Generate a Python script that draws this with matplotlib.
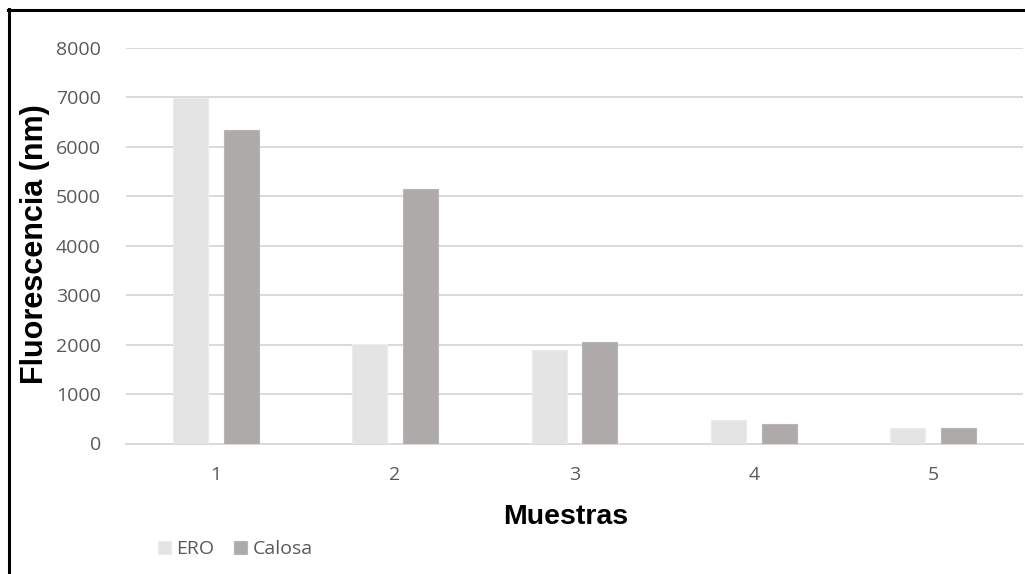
import matplotlib
matplotlib.use("Agg")
import matplotlib.pyplot as plt
from matplotlib.lines import Line2D
import numpy as np

# Data
muestras = ["1", "2", "3", "4", "5"]
ero = [6990, 2005, 1895, 480, 320]
calosa = [6345, 5140, 2055, 400, 318]
yticks = [0, 1000, 2000, 3000, 4000, 5000, 6000, 7000, 8000]

W, H = 1025, 574
fig = plt.figure(figsize=(W / 100, H / 100), dpi=100)
ax = fig.add_axes([126 / W, 1 - 443.5 / H, (1023 - 126) / W, (443.5 - 47.7) / H])

x = np.arange(len(muestras))
bw = 0.195
ax.bar(x - 0.142, ero, bw, color="#e4e4e4", edgecolor="#ececec", linewidth=0.8,
       label="ERO", zorder=3)
ax.bar(x + 0.142, calosa, bw, color="#aeaaaa", edgecolor="#b8b5b5", linewidth=0.8,
       label="Calosa", zorder=3)

ax.set_xlim(-0.5, len(muestras) - 0.5)
ax.set_ylim(0, 8000)
ax.set_yticks(yticks)
ax.set_yticklabels([str(v) for v in yticks])
ax.set_xticks(x)
ax.set_xticklabels(muestras)

ax.grid(axis="y", color="#d9d9d9", linewidth=1.4, zorder=0)
ax.set_axisbelow(True)
for s in ["top", "right", "left"]:
    ax.spines[s].set_visible(False)
ax.spines["bottom"].set_color("#d9d9d9")
ax.spines["bottom"].set_linewidth(1.4)
ax.tick_params(axis="both", length=0, colors="#595959", labelsize=14)
ax.tick_params(axis="y", pad=18)
ax.tick_params(axis="x", pad=16)
for lab in ax.get_xticklabels() + ax.get_yticklabels():
    lab.set_fontfamily("Open Sans")

fig.text(35 / W, 1 - 244 / H, "Fluorescencia (nm)", rotation=90, ha="center", va="center",
         fontsize=22, fontweight="bold", family="Liberation Sans", color="#000000")
fig.text(566 / W, 1 - 517 / H, "Muestras", ha="center", va="center",
         fontsize=20.5, fontweight="bold", family="Liberation Sans", color="#000000")

fig.legend(loc="center left", bbox_to_anchor=(158 / W, 1 - 549 / H), ncol=2,
           frameon=False, handlelength=0.65, handleheight=0.65, handletextpad=0.3,
           columnspacing=1.0, borderpad=0, borderaxespad=0,
           prop={"family": "Open Sans", "size": 14}, labelcolor="#595959")

# Outer frame (top and left edges)
fig.add_artist(Line2D([8 / W, 1.0], [1 - 9.5 / H, 1 - 9.5 / H], color="black", linewidth=2.2,
                      transform=fig.transFigure))
fig.add_artist(Line2D([8.5 / W, 8.5 / W], [0, 1 - 8.5 / H], color="black", linewidth=2.2,
                      transform=fig.transFigure))

fig.savefig("out.png", dpi=100, facecolor="white")
